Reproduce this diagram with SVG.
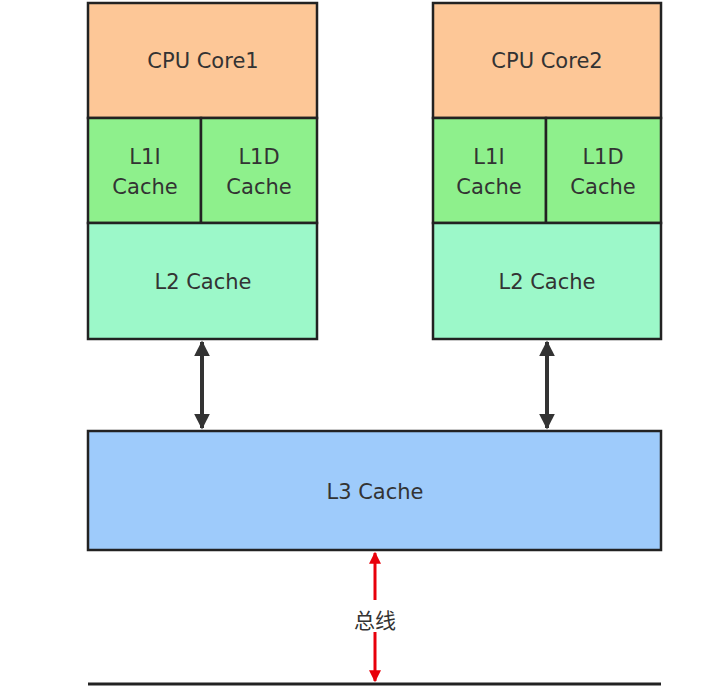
<svg xmlns="http://www.w3.org/2000/svg" width="720" height="686" viewBox="0 0 720 686">
<style>
.b{stroke:#222;stroke-width:2.5}
.t{font-family:"DejaVu Sans","Liberation Sans",sans-serif;font-size:21px;fill:#333;text-anchor:middle}
.core{fill:#fdc797}.l1{fill:#8ef08c}.l2{fill:#9cf8c9}.l3{fill:#9ecbfb}
</style>
<defs>
<marker id="ak" viewBox="0 0 10 10" refX="9" refY="5" markerWidth="4" markerHeight="6" orient="auto-start-reverse" markerUnits="strokeWidth"><path d="M0,0L10,5L0,10z" fill="#333"/></marker>
<marker id="ar" viewBox="0 0 10 10" refX="9" refY="5" markerWidth="4" markerHeight="6" orient="auto-start-reverse" markerUnits="strokeWidth"><path d="M0,0L10,5L0,10z" fill="#e8000b"/></marker>
</defs>
<rect width="720" height="686" fill="#fff"/>
<g id="core1">
<rect class="b core" x="88" y="3" width="229" height="115"/>
<rect class="b l1" x="88" y="118" width="113" height="105"/>
<rect class="b l1" x="201" y="118" width="116" height="105"/>
<rect class="b l2" x="88" y="223" width="229" height="116"/>
<text class="t" x="203" y="68">CPU Core1</text>
<text class="t" x="145" y="164">L1I</text><text class="t" x="145" y="194">Cache</text>
<text class="t" x="259" y="164">L1D</text><text class="t" x="259" y="194">Cache</text>
<text class="t" x="203" y="289">L2 Cache</text>
</g>
<g id="core2">
<rect class="b core" x="433" y="3" width="228" height="115"/>
<rect class="b l1" x="433" y="118" width="113" height="105"/>
<rect class="b l1" x="546" y="118" width="115" height="105"/>
<rect class="b l2" x="433" y="223" width="228" height="116"/>
<text class="t" x="547" y="68">CPU Core2</text>
<text class="t" x="489" y="164">L1I</text><text class="t" x="489" y="194">Cache</text>
<text class="t" x="603" y="164">L1D</text><text class="t" x="603" y="194">Cache</text>
<text class="t" x="547" y="289">L2 Cache</text>
</g>
<g id="l3">
<rect class="b l3" x="88" y="431" width="573" height="119"/>
<text class="t" x="375" y="499">L3 Cache</text>
</g>
<g id="bus">
<line x1="88" y1="684" x2="661" y2="684" stroke="#222" stroke-width="3"/>
</g>
<g id="connectors">
<line x1="202" y1="342" x2="202" y2="428" stroke="#333" stroke-width="4" marker-start="url(#ak)" marker-end="url(#ak)"/>
<line x1="547" y1="342" x2="547" y2="428" stroke="#333" stroke-width="4" marker-start="url(#ak)" marker-end="url(#ak)"/>
<line x1="375" y1="553" x2="375" y2="600" stroke="#e8000b" stroke-width="3" marker-start="url(#ar)"/>
<line x1="375" y1="632" x2="375" y2="681" stroke="#e8000b" stroke-width="3" marker-end="url(#ar)"/>
<text x="375" y="628" style="font-family:'Noto Sans CJK SC',sans-serif;font-size:21px;fill:#333;text-anchor:middle">总线</text>
</g>
</svg>
